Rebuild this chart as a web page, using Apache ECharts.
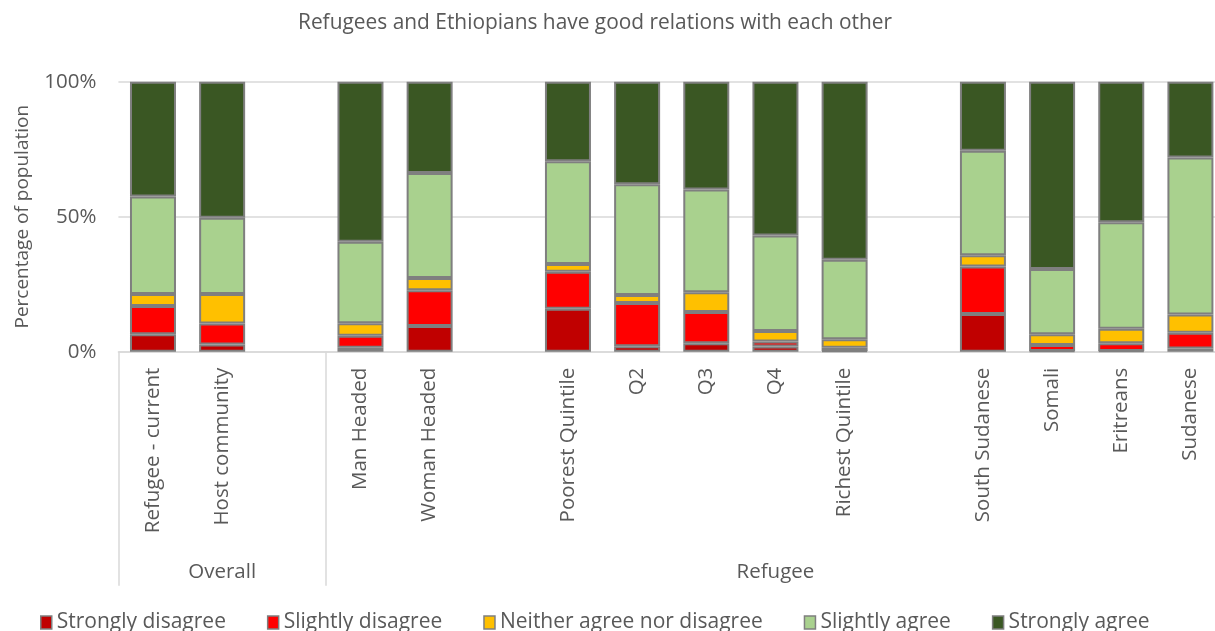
<!DOCTYPE html>
<html>
<head>
<meta charset="utf-8">
<script src="https://cdn.jsdelivr.net/npm/echarts@6/dist/echarts.min.js"></script>
<style>
html,body{margin:0;padding:0;background:#fff;overflow:hidden;width:1215px;height:631px;}
#main{width:1228px;height:631px;}
</style>
</head>
<body>
<div id="main"></div>
<script>
// ---- data ----
const titleText = 'Refugees and Ethiopians have good relations with each other';
const categories = ['Refugee - current', 'Host community', 'Man Headed', 'Woman Headed',
  'Poorest Quintile', 'Q2', 'Q3', 'Q4', 'Richest Quintile',
  'South Sudanese', 'Somali', 'Eritreans', 'Sudanese'];
// index after which an empty slot is inserted
const gapsAfter = [1, 3, 8];
const groupNames = ['Overall', 'Refugee'];
const seriesNames = ['Strongly disagree', 'Slightly disagree', 'Neither agree nor disagree', 'Slightly agree', 'Strongly agree'];
const stronglyDisagree = [6.5, 2.7, 1.5, 9.5, 15.9, 2.0, 3.1, 1.9, 0.3, 14.0, 0.3, 0.3, 1.2];
const slightlyDisagree = [10.4, 7.7, 4.4, 13.3, 13.7, 16.0, 11.6, 1.9, 1.2, 17.6, 2.2, 2.8, 5.8];
const neither = [4.5, 11.0, 4.6, 4.5, 2.9, 3.0, 7.3, 3.9, 3.1, 4.1, 4.0, 5.4, 6.8];
const slightlyAgree = [36.1, 28.2, 30.2, 38.9, 38.0, 41.0, 38.1, 35.3, 29.5, 38.7, 24.1, 39.4, 58.1];
const stronglyAgree = [42.5, 50.4, 59.3, 33.8, 29.5, 38.0, 39.9, 57.0, 65.9, 25.6, 69.4, 52.1, 28.1];
const yTicks = [0, 50, 100];

const colors = ['#c00000', '#ff0000', '#ffc000', '#a9d18e', '#3a5723'];

// ---- build slot arrays (with empty gap slots) ----
function withGaps(arr, filler) {
  const out = [];
  arr.forEach((v, i) => {
    out.push(v);
    if (gapsAfter.includes(i)) out.push(filler);
  });
  return out;
}
const slotLabels = withGaps(categories, '');
const allSeries = [stronglyDisagree, slightlyDisagree, neither, slightlyAgree, stronglyAgree];
// group slots: Overall = first 3 slots (2 bars + gap), Refugee = rest
const overallSlots = 3;
const groupSlotLabels = slotLabels.map(() => '');
groupSlotLabels[Math.floor((overallSlots - 1) / 2)] = groupNames[0];
groupSlotLabels[Math.floor((overallSlots + slotLabels.length - 1) / 2)] = groupNames[1];

const font = '"Open Sans", sans-serif';
const grey = '#595959';

const chart = echarts.init(document.getElementById('main'), null, {renderer: 'canvas'});
chart.setOption({
  animation: false,
  color: colors,
  title: {
    text: titleText, left: 293, top: 8,
    textStyle: {fontFamily: font, fontSize: 20.9, fontWeight: 'normal', color: grey}
  },
  legend: {
    left: 35, top: 607, itemWidth: 11, itemHeight: 13, itemGap: 41,
    icon: 'rect',
    textStyle: {fontFamily: font, fontSize: 21, color: grey},
    itemStyle: {borderColor: '#7f7f7f', borderWidth: 1.5}
  },
  grid: {left: 118.4, right: 3, top: 81.7, height: 270},
  xAxis: [{
    type: 'category', data: slotLabels,
    axisLine: {show: true, lineStyle: {color: '#d9d9d9', width: 1.5}},
    axisTick: {show: false},
    axisLabel: {rotate: 90, interval: 0, margin: 16, fontFamily: font, fontSize: 20.5, color: grey}
  }, {
    type: 'category', data: groupSlotLabels, position: 'bottom',
    axisLine: {show: false},
    axisTick: {show: true, length: 234, interval: (i) => i === 0 || i === overallSlots,
      lineStyle: {color: '#d9d9d9', width: 1.5}},
    axisLabel: {interval: 0, margin: 210, fontFamily: font, fontSize: 20.5, color: grey}
  }],
  yAxis: {
    type: 'value', min: 0, max: 100, interval: 50,
    name: 'Percentage of population', nameLocation: 'middle', nameGap: 86,
    nameTextStyle: {fontFamily: font, fontSize: 19, color: grey},
    axisLine: {show: false}, axisTick: {show: false},
    axisLabel: {margin: 22, fontFamily: font, fontSize: 20.5, color: grey,
      formatter: (v) => yTicks.includes(v) ? v + '%' : ''},
    splitLine: {lineStyle: {color: '#d9d9d9', width: 1.5}}
  },
  series: allSeries.map((arr, k) => ({
    name: seriesNames[k], type: 'bar', stack: 'total', xAxisIndex: 0,
    barWidth: 46,
    data: withGaps(arr, null),
    itemStyle: {color: colors[k], borderColor: '#7f7f7f', borderWidth: 2}
  }))
});
</script>
</body>
</html>
